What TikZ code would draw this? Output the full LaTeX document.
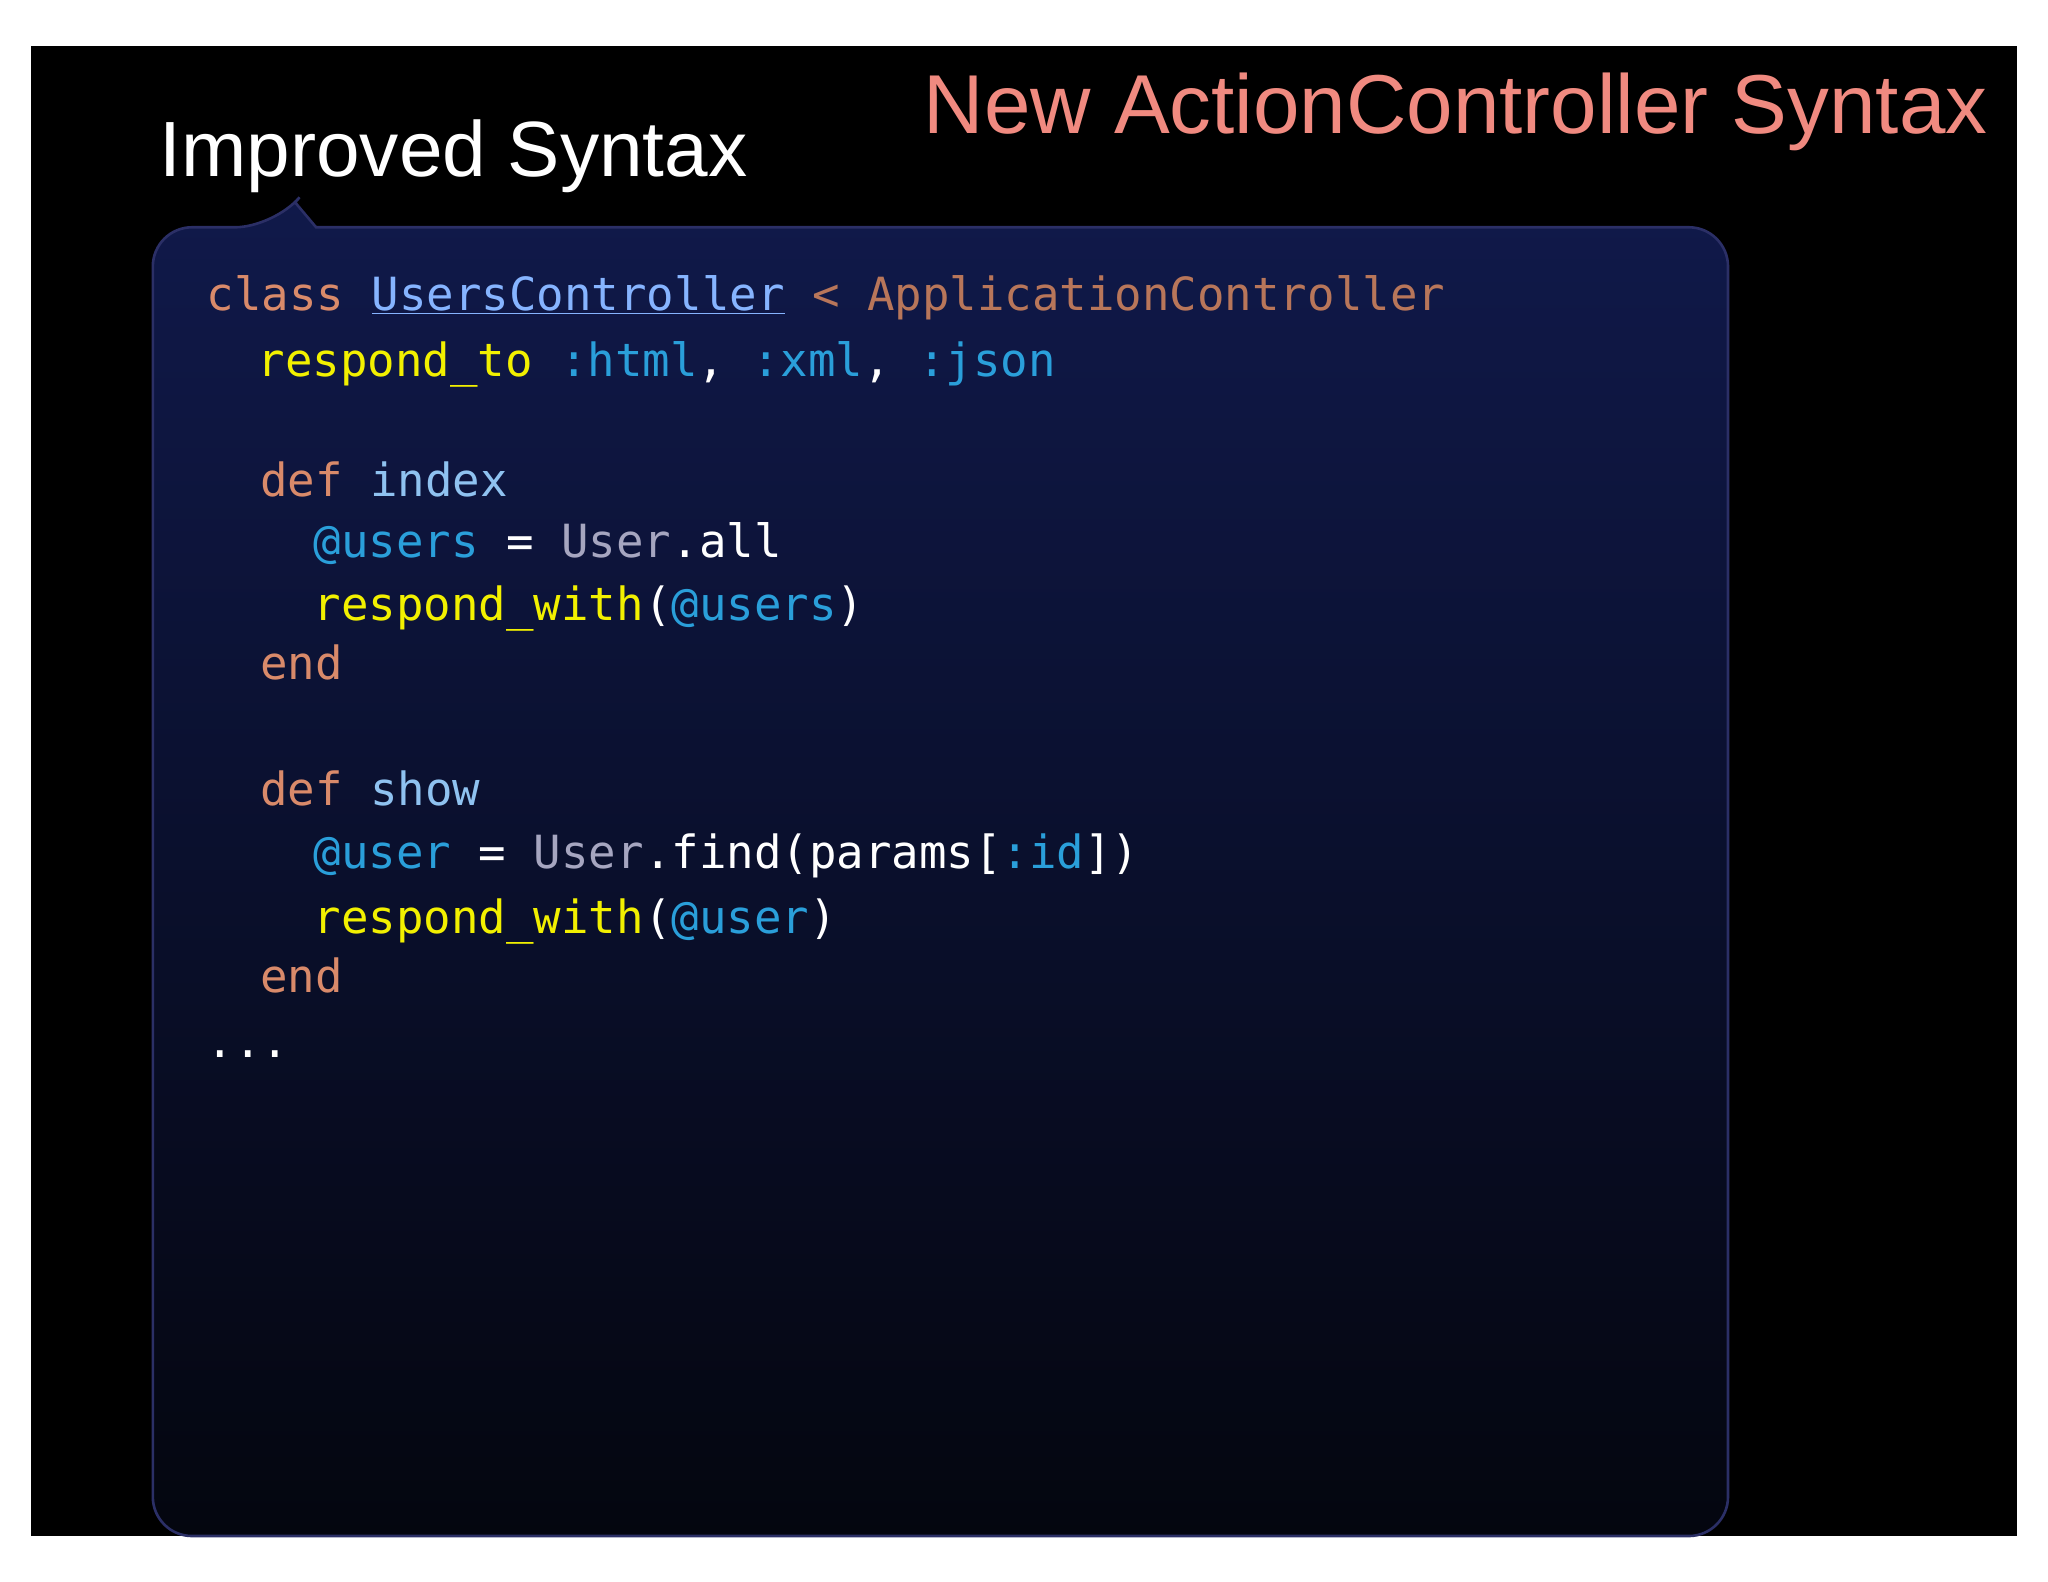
\documentclass[tikz,border=0pt]{standalone}
\usepackage{fontspec}
\setmainfont{Liberation Sans}
\setmonofont{DejaVu Sans Mono}
\definecolor{kw}{HTML}{D98A6A}
\definecolor{cls}{HTML}{86B4FF}
\definecolor{sup}{HTML}{B8765A}
\definecolor{yel}{HTML}{F2F000}
\definecolor{sym}{HTML}{2A9FDA}
\definecolor{meth}{HTML}{8FC2F0}
\definecolor{cnst}{HTML}{A6A6C0}
\definecolor{ttl}{HTML}{F08A80}
\definecolor{boxtop}{HTML}{10194A}
\definecolor{boxbot}{HTML}{04060F}
\definecolor{boxline}{HTML}{2B2F66}
\tikzset{code/.style={anchor=base west,inner sep=0pt,text=white,font=\ttfamily\fontsize{35}{40}\selectfont}}
\begin{document}
\begin{tikzpicture}[x=1pt,y=-1pt]
\useasboundingbox (0,0) rectangle (1568,1211);
\fill[white] (0,0) rectangle (1568,1211);
\fill[black] (24,35) rectangle (1544,1176);
\node[anchor=base east,inner sep=0pt,text=ttl,font=\fontsize{64}{70}\selectfont] (title) at (1522,102) {New ActionController Syntax};
\node[anchor=base west,inner sep=0pt,text=white,font=\fontsize{60}{66}\selectfont] (sub) at (122,135) {Improved Syntax};
\path[top color=boxtop,bottom color=boxbot,draw=boxline,line width=2pt,rounded corners=30pt]
  (117,1176) -- (117,174) -- (210,174) [sharp corners] -- (226,155) -- (242,174) [rounded corners=30pt] -- (1323,174) -- (1323,1176) -- cycle;
\node[code] (l1) at (158,238) {\textcolor{kw}{class} \textcolor{cls}{\underline{UsersController}} \textcolor{sup}{< ApplicationController}};
\node[code] (l2) at (197,288) {\textcolor{yel}{respond\_to} \textcolor{sym}{:html}, \textcolor{sym}{:xml}, \textcolor{sym}{:json}};
\node[code] (l3) at (199,380) {\textcolor{kw}{def} \textcolor{meth}{index}};
\node[code] (l4) at (240,427) {\textcolor{sym}{@users} = \textcolor{cnst}{User}.all};
\node[code] (l5) at (240,475) {\textcolor{yel}{respond\_with}(\textcolor{sym}{@users})};
\node[code] (l6) at (199,520) {\textcolor{kw}{end}};
\node[code] (l7) at (199,617) {\textcolor{kw}{def} \textcolor{meth}{show}};
\node[code] (l8) at (240,665) {\textcolor{sym}{@user} = \textcolor{cnst}{User}.find(params[\textcolor{sym}{:id}])};
\node[code] (l9) at (240,715) {\textcolor{yel}{respond\_with}(\textcolor{sym}{@user})};
\node[code] (l10) at (199,760) {\textcolor{kw}{end}};
\node[code] (l11) at (158,810) {...};
\end{tikzpicture}
\end{document}
